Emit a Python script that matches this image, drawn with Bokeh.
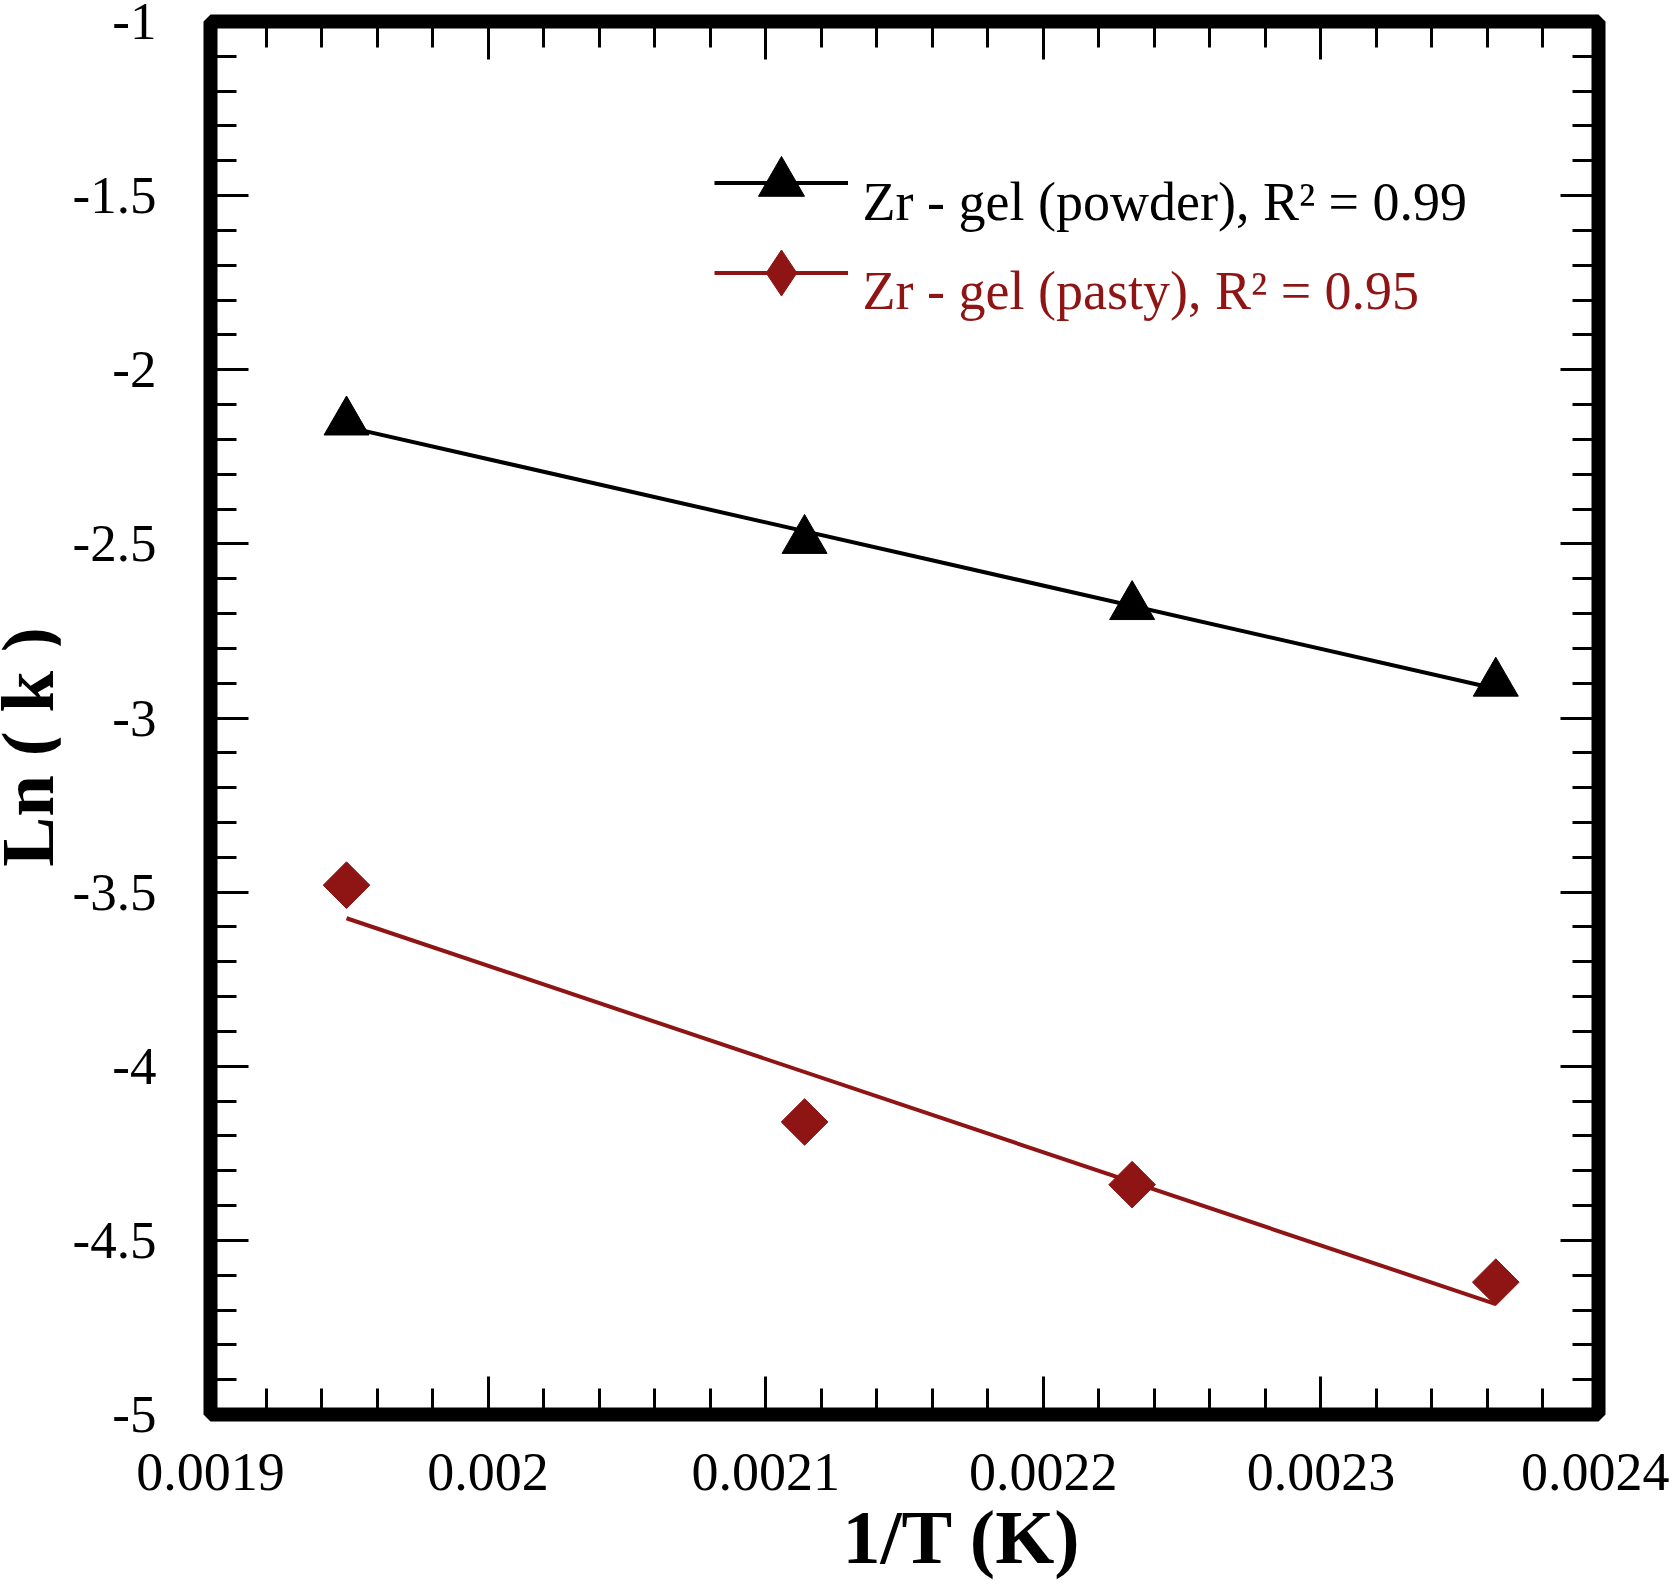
from math import pi

from bokeh.plotting import figure
from bokeh.layouts import row, column
from bokeh.models import (Range1d, LinearAxis, FixedTicker, Legend, LegendItem,
                          Label, Div)
from bokeh.embed import file_html
from bokeh.resources import INLINE

# data
inv_T = [0.001949, 0.002114, 0.002232, 0.002363]
ln_k_powder = [-2.15, -2.49, -2.68, -2.90]
ln_k_pasty = [-3.48, -4.16, -4.34, -4.62]

# fitted lines (end points at first and last 1/T)
fit_x = [inv_T[0], inv_T[-1]]
fit_powder = [-2.164, -2.916]
fit_pasty = [-3.575, -4.683]

x_ticks = [0.0019, 0.002, 0.0021, 0.0022, 0.0023, 0.0024]
x_tick_labels = ["0.0019", "0.002", "0.0021", "0.0022", "0.0023", "0.0024"]
y_ticks = [-5.0, -4.5, -4.0, -3.5, -3.0, -2.5, -2.0, -1.5, -1.0]
y_tick_labels = ["-5", "-4.5", "-4", "-3.5", "-3", "-2.5", "-2", "-1.5", "-1"]

x_title = "1/T (K)"
y_title = "Ln ( k )"
label_powder = "Zr - gel (powder), R\u00b2 = 0.99"
label_pasty = "Zr - gel (pasty), R\u00b2 = 0.95"

RED = "#8f1515"
FONT = "Liberation Serif"

x_minor = [round(0.0019 + i * 0.00002, 6) for i in range(26)]
y_minor = [round(-5 + i * 0.1, 2) for i in range(41)]

p = figure(width=1609, height=1520,
           x_range=Range1d(0.0019, 0.0024), y_range=Range1d(-5, -1),
           output_backend="svg", toolbar_location=None,
           min_border_left=150, min_border_right=71,
           min_border_top=21, min_border_bottom=106)
p.xgrid.grid_line_color = None
p.ygrid.grid_line_color = None
p.outline_line_color = "black"
p.outline_line_width = 14
p.background_fill_color = "white"
p.border_fill_color = "white"

bottom_axis = p.xaxis[0]
left_axis = p.yaxis[0]
top_axis = LinearAxis()
right_axis = LinearAxis()
p.add_layout(top_axis, "above")
p.add_layout(right_axis, "right")

x_ticker = FixedTicker(ticks=x_ticks, minor_ticks=x_minor)
y_ticker = FixedTicker(ticks=y_ticks, minor_ticks=y_minor)
bottom_axis.ticker = x_ticker
top_axis.ticker = x_ticker
left_axis.ticker = y_ticker
right_axis.ticker = y_ticker

for ax in [bottom_axis, left_axis, top_axis, right_axis]:
    ax.axis_line_color = None
    ax.major_tick_in = 38
    ax.major_tick_out = 0
    ax.minor_tick_in = 26
    ax.minor_tick_out = 0
    ax.major_tick_line_width = 3
    ax.minor_tick_line_width = 3
    ax.major_tick_line_color = "black"
    ax.minor_tick_line_color = "black"
    ax.major_label_text_font = FONT
    ax.major_label_text_font_size = "53px"
    ax.major_label_text_color = "black"

for ax in [top_axis, right_axis]:
    ax.major_label_text_font_size = "0px"
    ax.major_label_text_color = None
    ax.major_label_standoff = 0

bottom_axis.major_label_text_font_size = "54px"
bottom_axis.major_label_overrides = dict(zip(x_ticks, x_tick_labels))
left_axis.major_label_overrides = dict(zip(y_ticks, y_tick_labels))
bottom_axis.major_label_standoff = 39
left_axis.major_label_standoff = 54

# series
l1 = p.line(fit_x, fit_powder, line_color="black", line_width=4)
s1 = p.scatter(inv_T, ln_k_powder, marker="triangle", size=45,
               fill_color="black", line_color="black")
l2 = p.line(fit_x, fit_pasty, line_color=RED, line_width=4)
# legend key for the pasty series; legends draw markers unrotated, so a
# diamond marker (hidden under the rotated squares) stands in for it
key2 = p.scatter(inv_T, ln_k_pasty, marker="diamond", size=44,
                 fill_color=RED, line_color=RED)
s2 = p.scatter(inv_T, ln_k_pasty, marker="square", size=33, angle=pi / 4,
               fill_color=RED, line_color=RED)

# legend keys; their texts are drawn as labels below so that they sit a
# little lower than the keys, as in the original
leg1 = Legend(items=[LegendItem(label=label_powder, renderers=[l1, s1])],
              location=(504, 1174), glyph_width=134, glyph_height=115,
              label_standoff=14, padding=0, margin=0, spacing=0,
              border_line_color=None, background_fill_alpha=0,
              label_text_font=FONT, label_text_font_size="54px",
              label_text_color=None)
leg2 = Legend(items=[LegendItem(label=label_pasty, renderers=[l2, key2])],
              location=(504, 1084), glyph_width=134, glyph_height=115,
              label_standoff=14, padding=0, margin=0, spacing=0,
              border_line_color=None, background_fill_alpha=0,
              label_text_font=FONT, label_text_font_size="54px",
              label_text_color=None)
p.add_layout(leg1)
p.add_layout(leg2)

p.add_layout(Label(x=0.0021349, y=-1.5175, text=label_powder,
                   text_font=FONT, text_font_size="54px", text_color="black",
                   text_align="left", text_baseline="alphabetic"))
p.add_layout(Label(x=0.0021349, y=-1.773, text=label_pasty,
                   text_font=FONT, text_font_size="54px", text_color=RED,
                   text_align="left", text_baseline="alphabetic"))

# axis titles in strips beside and below the figure (they run up to the
# page edges, which the figure's own borders have no room for)
span_style = ("position:absolute;font-family:'Liberation Serif';"
              "font-weight:bold;white-space:nowrap;color:black;")
y_title_div = Div(width=50, height=1572, text=(
    '<div style="position:relative;width:50px;height:1572px;">'
    '<span style="' + span_style + 'left:21.7px;top:742px;font-size:75px;'
    'line-height:75px;transform:translate(-50%,-50%) rotate(-90deg);">'
    + y_title + '</span></div>'))
x_title_div = Div(width=1609, height=52, text=(
    '<div style="position:relative;width:1609px;height:52px;">'
    '<span style="' + span_style + 'left:896px;top:-25.7px;font-size:76px;'
    'line-height:76px;transform:translateX(-50%);">'
    + x_title + '</span></div>'))

layout = row(y_title_div, column(p, x_title_div, spacing=0), spacing=0)

open("out.html", "w").write(file_html(layout, INLINE))
